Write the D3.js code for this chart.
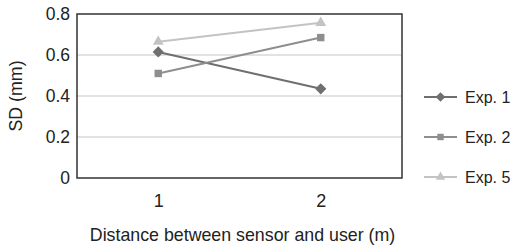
<!DOCTYPE html>
<html>
<head>
<meta charset="utf-8">
<script src="https://cdn.jsdelivr.net/npm/d3@7"></script>
<style>
  body { margin: 0; background: #fff; }
  text { font-family: "Liberation Sans", Arial, sans-serif; fill: #222; }
</style>
</head>
<body>
<svg id="chart" width="514" height="248"></svg>
<script>
'use strict';

// values
const categories = ['1', '2'];
const seriesNames = ['Exp. 1', 'Exp. 2', 'Exp. 5'];
const exp1 = [0.615, 0.435];
const exp2 = [0.51, 0.685];
const exp5 = [0.665, 0.757];
const yTicks = [0, 0.2, 0.4, 0.6, 0.8];

const series = [
    {name: seriesNames[0], values: exp1, color: '#6f6f6f', symbol: d3.symbolDiamond2, size: 80},
    {name: seriesNames[1], values: exp2, color: '#8e8e8e', symbol: d3.symbolSquare2, size: 70},
    {name: seriesNames[2], values: exp5, color: '#c3c3c3', symbol: d3.symbolTriangle2, size: 85}
];

const margin = {top: 14, right: 112, bottom: 70, left: 77};
const width = 514 - margin.left - margin.right,
      height = 248 - margin.top - margin.bottom;

const svg = d3.select('#chart');
const g = svg.append('g').attr('transform', `translate(${margin.left},${margin.top})`);

const x = d3.scalePoint().domain(categories).range([0, width]).padding(0.5);
const y = d3.scaleLinear().domain([0, 0.8]).range([height, 0]);

// grid lines
g.append('g')
    .selectAll('line')
    .data(yTicks.filter(d => d > 0 && d < 0.8))
    .enter().append('line')
    .attr('x1', 0).attr('x2', width)
    .attr('y1', d => y(d)).attr('y2', d => y(d))
    .attr('stroke', '#d9d9d9')
    .attr('stroke-width', 1.5);

// frame
g.append('rect')
    .attr('width', width).attr('height', height)
    .attr('fill', 'none')
    .attr('stroke', '#333')
    .attr('stroke-width', 1.5);

// y axis
const yAxis = g.append('g')
    .call(d3.axisLeft(y).tickValues(yTicks).tickFormat(d => d === 0 ? '0' : d3.format('.1f')(d)).tickSize(0).tickPadding(7));
yAxis.select('.domain').remove();
yAxis.selectAll('text').style('font-size', '17.5px').attr('fill', '#222');

// x axis
const xAxis = g.append('g')
    .attr('transform', `translate(0,${height})`)
    .call(d3.axisBottom(x).tickSize(0).tickPadding(16));
xAxis.select('.domain').remove();
xAxis.selectAll('text').style('font-size', '18px').attr('fill', '#222');

// axis titles
svg.append('text')
    .attr('x', margin.left + width / 2 + 3)
    .attr('y', 241)
    .attr('text-anchor', 'middle')
    .style('font-size', '17.8px')
    .text('Distance between sensor and user (m)');

svg.append('text')
    .attr('transform', `translate(22,${margin.top + height / 2}) rotate(-90)`)
    .attr('text-anchor', 'middle')
    .style('font-size', '17.8px')
    .text('SD (mm)');

// lines and markers
const line = d3.line()
    .x((d, i) => x(categories[i]))
    .y(d => y(d));

const s = g.selectAll('.series')
    .data(series)
    .enter().append('g')
    .attr('class', 'series');

s.append('path')
    .attr('d', d => line(d.values))
    .attr('fill', 'none')
    .attr('stroke', d => d.color)
    .attr('stroke-width', 2);

s.each(function(d) {
    d3.select(this).selectAll('path.mark')
        .data(d.values)
        .enter().append('path')
        .attr('class', 'mark')
        .attr('transform', (v, i) => `translate(${x(categories[i])},${y(v)})`)
        .attr('d', d3.symbol().type(d.symbol).size(d.size))
        .attr('fill', d.color);
});

// legend
const legend = svg.append('g')
    .attr('transform', 'translate(424,97)');

const item = legend.selectAll('g')
    .data(series)
    .enter().append('g')
    .attr('transform', (d, i) => `translate(0,${i * 40})`);

item.append('line')
    .attr('x1', 0).attr('x2', 33)
    .attr('stroke', d => d.color)
    .attr('stroke-width', 2);

item.append('path')
    .attr('transform', 'translate(16.5,0)')
    .attr('d', d => d3.symbol().type(d.symbol).size(d.size * 0.75)())
    .attr('fill', d => d.color);

item.append('text')
    .attr('x', 41)
    .attr('dy', '0.35em')
    .style('font-size', '16px')
    .text(d => d.name);
</script>
</body>
</html>
